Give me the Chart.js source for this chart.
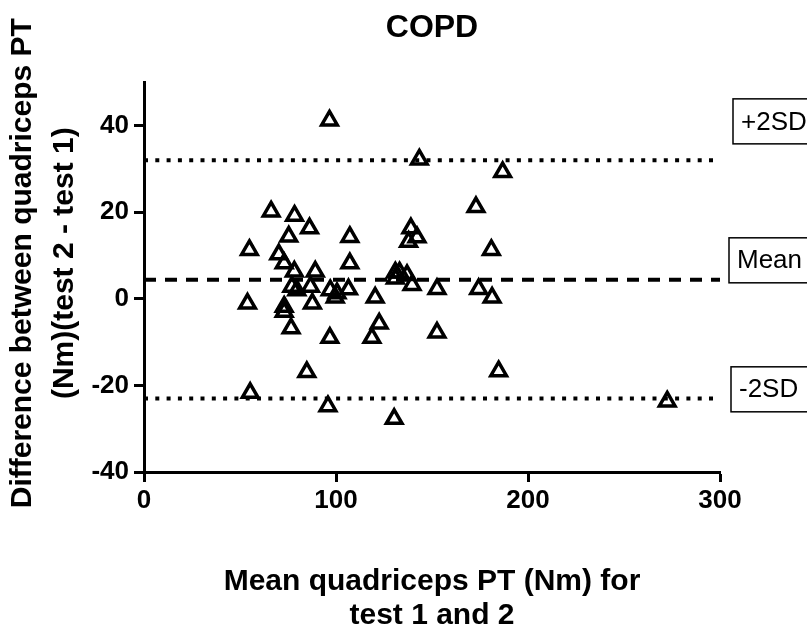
<!DOCTYPE html>
<html>
<head>
<meta charset="utf-8">
<script src="https://cdn.jsdelivr.net/npm/chart.js@4"></script>
<style>
  html, body { margin: 0; padding: 0; background: #fff; }
  #wrap { width: 807px; height: 630px; }
</style>
</head>
<body>
<div id="wrap"><canvas id="copdChart" width="807" height="630"></canvas></div>
<script>
// mean of test 1 and 2 (Nm)
const meanPT = [
    96.6, 66.2, 78.4, 86.2, 75.4, 107.2, 54.9, 70.2, 73.0, 107.2,
    78.3, 89.2, 77.0, 79.6, 86.7, 97.0, 100.5, 99.6, 106.5, 53.9,
    73.0, 73.0, 87.7, 76.6, 96.8, 84.8, 55.3, 95.8, 143.4, 186.8,
    172.9, 139.0, 142.2, 137.8, 180.9, 130.9, 133.1, 137.0, 130.9, 139.6,
    120.4, 152.6, 174.3, 181.3, 122.5, 118.7, 152.6, 184.7, 130.3, 272.5
];
// difference test 2 - test 1 (Nm)
const diffPT = [
    41.2, 20.2, 19.2, 16.3, 14.4, 14.3, 11.3, 10.3, 8.2, 8.2,
    6.3, 6.3, 2.8, 2.0, 2.8, 2.0, 1.3, 0.3, 2.2, -1.1,
    -1.8, -3.0, -1.1, -6.8, -9.0, -16.9, -21.7, -24.8, 32.2, 29.3,
    21.2, 16.3, 14.2, 13.2, 11.3, 6.1, 6.1, 5.5, 4.7, 3.2,
    0.3, 2.3, 2.3, 0.3, -5.7, -9.0, -7.8, -16.7, -27.7, -23.7
];

const meanDiff = 4.4;
const upperLimit = 32.0;
const lowerLimit = -23.0;
const lineLabels = ['+2SD', 'Mean', '-2SD'];

const xRange = [0, 300];
const yRange = [-40, 50];
const xTicks = [0, 100, 200, 300];
const yTicks = [-40, -20, 0, 20, 40];
const yTitle = ['Difference between quadriceps PT', '(Nm)(test 2 - test 1)'];

const FONT = '"Liberation Sans", Arial, Helvetica, sans-serif';

const points = meanPT.map((x, i) => ({ x: x, y: diffPT[i] }));
const hLine = v => xRange.map(x => ({ x: x, y: v }));

// boxed labels to the right of the plot
const limitLabels = {
    id: 'limitLabels',
    afterDatasetsDraw(chart, args, opts) {
        const ctx = chart.ctx;
        const y = chart.scales.y;
        const right = chart.chartArea.right;
        ctx.save();
        ctx.font = '26px ' + FONT;
        ctx.textBaseline = 'middle';
        ctx.textAlign = 'left';
        ctx.fillStyle = '#000';
        ctx.strokeStyle = '#000';
        ctx.lineWidth = 1.5;
        opts.items.forEach(item => {
            const cy = y.getPixelForValue(item.at);
            const left = right + item.dx;
            const w = ctx.measureText(item.text).width + 18;
            ctx.strokeRect(left, cy - 22.5, w, 45);
            ctx.fillText(item.text, left + 8, cy + 1);
        });
        ctx.restore();
    }
};

// rotated y title, sits a little above the axis middle like the original
const sideTitle = {
    id: 'sideTitle',
    afterDraw(chart, args, opts) {
        const ctx = chart.ctx;
        const area = chart.chartArea;
        const cy = (area.top + area.bottom) / 2 - opts.shift;
        ctx.save();
        ctx.font = 'bold 30px ' + FONT;
        ctx.fillStyle = '#000';
        ctx.textAlign = 'center';
        ctx.textBaseline = 'middle';
        opts.text.forEach((line, i) => {
            ctx.save();
            ctx.translate(opts.x + i * opts.gap, cy);
            ctx.rotate(-Math.PI / 2);
            ctx.fillText(line, 0, 0);
            ctx.restore();
        });
        ctx.restore();
    }
};

const ctx = document.getElementById('copdChart').getContext('2d');
const copdChart = new Chart(ctx, {
    type: 'scatter',
    data: {
        datasets: [{
            label: 'COPD',
            data: points,
            pointStyle: 'triangle',
            pointRadius: 9,
            pointHoverRadius: 9,
            pointBorderWidth: 3.5,
            pointBorderColor: '#000',
            pointBackgroundColor: 'rgba(0,0,0,0)'
        }, {
            type: 'line',
            label: lineLabels[0],
            data: hLine(upperLimit),
            borderColor: '#000',
            borderWidth: 4,
            borderDash: [4, 7.3],
            pointRadius: 0,
            fill: false
        }, {
            type: 'line',
            label: lineLabels[1],
            data: hLine(meanDiff),
            borderColor: '#000',
            borderWidth: 4,
            borderDash: [12, 9],
            pointRadius: 0,
            fill: false
        }, {
            type: 'line',
            label: lineLabels[2],
            data: hLine(lowerLimit),
            borderColor: '#000',
            borderWidth: 4,
            borderDash: [4, 7.3],
            pointRadius: 0,
            fill: false
        }]
    },
    options: {
        responsive: false,
        devicePixelRatio: 1,
        animation: false,
        layout: {
            padding: { left: 0, right: 87, top: 0, bottom: 0 }
        },
        plugins: {
            legend: { display: false },
            tooltip: { enabled: false },
            title: {
                display: true,
                text: 'COPD',
                fullSize: false,
                color: '#000',
                font: { family: FONT, size: 32, weight: 'bold', lineHeight: 1.2 },
                padding: { top: 9, bottom: 35 }
            },
            limitLabels: {
                items: [
                    { text: lineLabels[0], at: 41, dx: 13 },
                    { text: lineLabels[1], at: 8.9, dx: 9 },
                    { text: lineLabels[2], at: -20.9, dx: 11 }
                ]
            },
            sideTitle: { text: yTitle, x: 23, gap: 42, shift: 14 }
        },
        scales: {
            x: {
                type: 'linear',
                min: xRange[0],
                max: xRange[1],
                afterBuildTicks: s => { s.ticks = xTicks.map(v => ({ value: v })); },
                afterFit: s => { s.height = 158; },
                border: { display: true, color: '#000', width: 3 },
                grid: {
                    drawOnChartArea: false,
                    drawTicks: true,
                    tickLength: 10,
                    tickWidth: 3,
                    color: '#000'
                },
                ticks: {
                    color: '#000',
                    padding: 3,
                    maxRotation: 0,
                    font: { family: FONT, size: 26, weight: 'bold' }
                },
                title: {
                    display: true,
                    text: ['Mean quadriceps PT (Nm) for', 'test 1 and 2'],
                    color: '#000',
                    font: { family: FONT, size: 30, weight: 'bold', lineHeight: 1.15 },
                    padding: { top: 0, bottom: -3 }
                }
            },
            y: {
                type: 'linear',
                min: yRange[0],
                max: yRange[1],
                afterBuildTicks: s => { s.ticks = yTicks.map(v => ({ value: v })); },
                afterFit: s => { s.width = 144; },
                border: { display: true, color: '#000', width: 3 },
                grid: {
                    drawOnChartArea: false,
                    drawTicks: true,
                    tickLength: 10,
                    tickWidth: 3,
                    color: '#000'
                },
                ticks: {
                    color: '#000',
                    padding: 5,
                    font: { family: FONT, size: 26, weight: 'bold' }
                }
            }
        }
    },
    plugins: [limitLabels, sideTitle]
});
</script>
</body>
</html>
